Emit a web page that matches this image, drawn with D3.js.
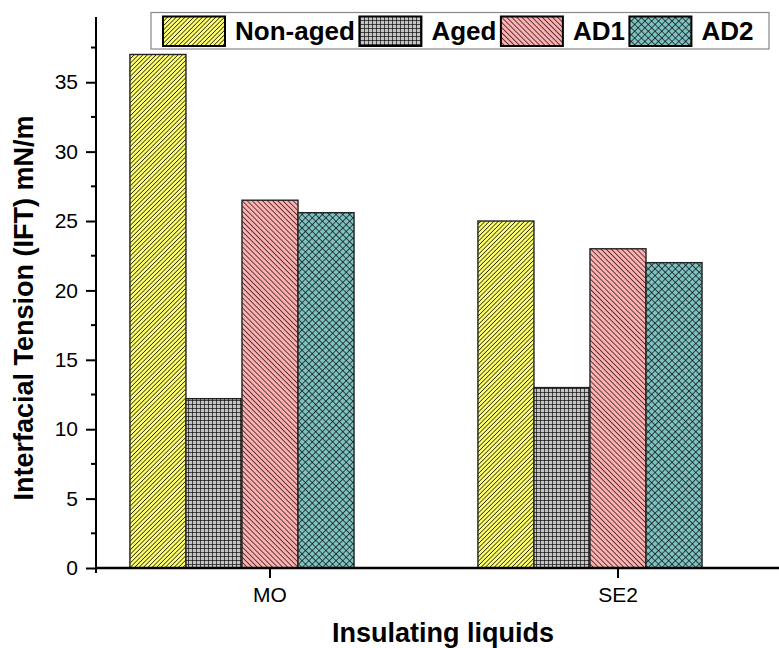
<!DOCTYPE html>
<html>
<head>
<meta charset="utf-8">
<script src="https://cdn.jsdelivr.net/npm/d3@7"></script>
<style>
  body { margin: 0; background: #fff; }
  text { font-family: "Liberation Sans", Arial, sans-serif; }
</style>
</head>
<body>
<div id="chart"></div>
<script>
// data
var categories = ["MO", "SE2"];
var seriesNames = ["Non-aged", "Aged", "AD1", "AD2"];
var nonAged = [37.0, 25.0];
var aged = [12.2, 13.0];
var ad1 = [26.5, 23.0];
var ad2 = [25.6, 22.0];
var yTicks = [0, 5, 10, 15, 20, 25, 30, 35];
var yMinorTicks = [2.5, 7.5, 12.5, 17.5, 22.5, 27.5, 32.5, 37.5];

var seriesValues = [nonAged, aged, ad1, ad2];

var width = 779, height = 648;

var svg = d3.select("#chart").append("svg")
    .attr("width", width)
    .attr("height", height);

// hatch patterns
var defs = svg.append("defs");

function linePattern(id, fill, spacing, angle, cross) {
  var p = defs.append("pattern")
      .attr("id", id)
      .attr("patternUnits", "userSpaceOnUse")
      .attr("width", spacing)
      .attr("height", spacing)
      .attr("patternTransform", "rotate(" + angle + ")");
  p.append("rect").attr("width", spacing).attr("height", spacing).attr("fill", fill);
  p.append("line")
      .attr("x1", 0).attr("y1", 0).attr("x2", 0).attr("y2", spacing)
      .attr("stroke", "#000").attr("stroke-width", 1.3);
  if (cross) {
    p.append("line")
        .attr("x1", 0).attr("y1", 0).attr("x2", spacing).attr("y2", 0)
        .attr("stroke", "#000").attr("stroke-width", 1.3);
  }
}
linePattern("pat0", "#ffff70", 3.1, 45, false);
linePattern("pat1", "#c4c4c4", 4, 0, true);
linePattern("pat2", "#ffb0b0", 3.6, -45, false);
linePattern("pat3", "#7fc2c2", 4.8, 45, true);

var x0 = d3.scaleBand()
    .domain(categories)
    .range([96, 792]);

var barW = x0.bandwidth() * 0.161;
var x1 = d3.scaleBand()
    .domain(seriesNames)
    .range([-2.5 * barW, 1.5 * barW]);

var y = d3.scaleLinear()
    .domain([0, 39.7])
    .range([568, 17]);

// bars
seriesNames.forEach(function(s, si) {
  svg.append("g")
    .selectAll("rect")
    .data(categories)
    .enter()
    .append("rect")
      .attr("x", function(d) { return x0(d) + x0.bandwidth() / 2 + x1(s); })
      .attr("y", function(d, i) { return y(seriesValues[si][i]); })
      .attr("width", x1.bandwidth())
      .attr("height", function(d, i) { return y(0) - y(seriesValues[si][i]); })
      .attr("fill", "url(#pat" + si + ")")
      .attr("stroke", "#222")
      .attr("stroke-width", 1.4);
});

// y axis
var yAxis = svg.append("g")
    .attr("transform", "translate(96,0)")
    .call(d3.axisLeft(y).tickValues(yTicks).tickSize(10).tickPadding(8).tickFormat(d3.format("d")));
yAxis.append("g")
    .selectAll("line")
    .data(yMinorTicks)
    .enter()
    .append("line")
      .attr("x1", -5).attr("x2", 0)
      .attr("y1", function(d) { return y(d); })
      .attr("y2", function(d) { return y(d); })
      .attr("stroke", "#000").attr("stroke-width", 2);
yAxis.select(".domain").attr("d", "M0," + y(0) + "V" + y(39.7)).attr("stroke-width", 2);
yAxis.selectAll(".tick line").attr("stroke-width", 2);
yAxis.selectAll(".tick text").style("font-size", "21px").attr("fill", "#000");

// x axis
var xAxis = svg.append("g")
    .attr("transform", "translate(0," + y(0) + ")")
    .call(d3.axisBottom(x0).tickSize(10).tickPadding(9).tickSizeOuter(0));
xAxis.select(".domain").attr("d", "M95,0H779").attr("stroke-width", 2.5);
xAxis.append("line")
    .attr("x1", 96).attr("x2", 96).attr("y1", 0).attr("y2", 5)
    .attr("stroke", "#000").attr("stroke-width", 2);
xAxis.selectAll(".tick line").attr("stroke-width", 2);
xAxis.selectAll(".tick text").style("font-size", "21px").attr("fill", "#000");

// axis titles
svg.append("text")
    .attr("transform", "translate(33,308) rotate(-90)")
    .style("text-anchor", "middle")
    .style("font-size", "27px")
    .style("font-weight", "bold")
    .text("Interfacial Tension (IFT) mN/m");

svg.append("text")
    .attr("x", 443)
    .attr("y", 642)
    .style("text-anchor", "middle")
    .style("font-size", "27px")
    .style("font-weight", "bold")
    .text("Insulating liquids");

// legend
var legend = svg.append("g");
legend.append("rect")
    .attr("x", 151).attr("y", 12.5)
    .attr("width", 618).attr("height", 36.5)
    .attr("fill", "#fff")
    .attr("stroke", "#888")
    .attr("stroke-width", 1.2);

var cursor = 163;
seriesNames.forEach(function(s, si) {
  legend.append("rect")
      .attr("x", cursor).attr("y", 16.5)
      .attr("width", 62).attr("height", 29.5)
      .attr("fill", "url(#pat" + si + ")")
      .attr("stroke", "#000")
      .attr("stroke-width", 2);
  var t = legend.append("text")
      .attr("x", cursor + 72)
      .attr("y", 39.5)
      .style("font-size", "26px")
      .style("font-weight", "bold")
      .text(s);
  cursor = cursor + 72 + t.node().getComputedTextLength() + 4.5;
});
</script>
</body>
</html>
